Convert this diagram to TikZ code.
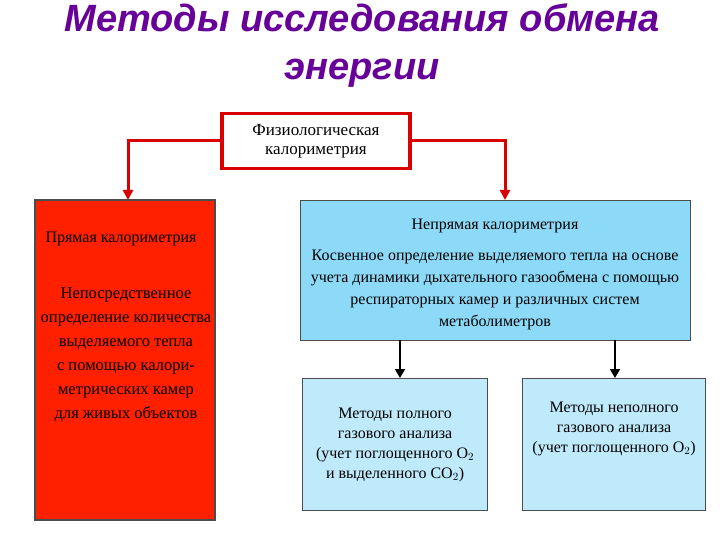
\documentclass[tikz,border=0pt]{standalone}
\usepackage{fontspec}
\setmainfont{Liberation Serif}
\newfontfamily\titlefont{Liberation Sans}
\usetikzlibrary{arrows.meta}
\begin{document}
\begin{tikzpicture}[x=1pt,y=-1pt,
  box/.style={draw=black!70,line width=1.2pt,align=center,inner sep=2pt},
  cyanbox/.style={box,fill=cyan!45!white},
  lightbox/.style={box,fill=cyan!25!white},
  redline/.style={draw=red!85!black,line width=3pt,-{Triangle[length=10pt,width=10pt]}},
  blackarrow/.style={draw=black,line width=2pt,-{Triangle[length=9pt,width=10pt]}},
  txt/.style={font=\fontsize{16}{20}\selectfont,align=center}]
\useasboundingbox (0,0) rectangle (720,540);
\fill[white] (0,0) rectangle (720,540);
\node[font=\titlefont\bfseries\itshape\fontsize{38}{48}\selectfont,text=violet!80!blue,align=center] (title) at (362,46) {Методы исследования обмена\\энергии};
\node[draw=red!85!black,line width=3.5pt,fill=white,minimum width=188pt,minimum height=55pt,txt,font=\fontsize{17}{19}\selectfont] (top) at (316,141) {Физиологическая\\калориметрия};
\node[box,minimum width=180pt,minimum height=320pt,fill=red!75!orange] (left) at (125,360) {};
\node[txt,anchor=north west] (lt) at (42,228) {Прямая калориметрия};
\node[txt,font=\fontsize{16.5}{24}\selectfont] (lb) at (126,355) {Непосредственное\\определение количества\\выделяемого тепла\\с помощью калори-\\метрических камер\\для живых объектов};
\node[cyanbox,minimum width=390pt,minimum height=140pt,anchor=north west] (right) at (300,200) {};
\node[txt] (rt) at (495,226) {Непрямая калориметрия};
\node[txt,font=\fontsize{16}{22}\selectfont] (rb) at (495,290) {Косвенное определение выделяемого тепла на основе\\учета динамики дыхательного газообмена с помощью\\респираторных камер и различных систем\\метаболиметров};
\node[lightbox,minimum width=185pt,minimum height=132pt,anchor=north west,txt] (b1) at (302,378) {Методы полного\\газового анализа\\(учет поглощенного O$_2$\\и выделенного CO$_2$)};
\node[lightbox,minimum width=183pt,minimum height=132pt,anchor=north west,txt,text depth=35pt] (b2) at (522,378) {Методы неполного\\газового анализа\\(учет поглощенного O$_2$)};
\draw[redline] (top.west) -- (128,141) -- (128,200);
\draw[redline] (top.east) -- (505,141) -- (505,200);
\draw[blackarrow] (400,340) -- (400,378);
\draw[blackarrow] (615,340) -- (615,378);
\end{tikzpicture}
\end{document}
